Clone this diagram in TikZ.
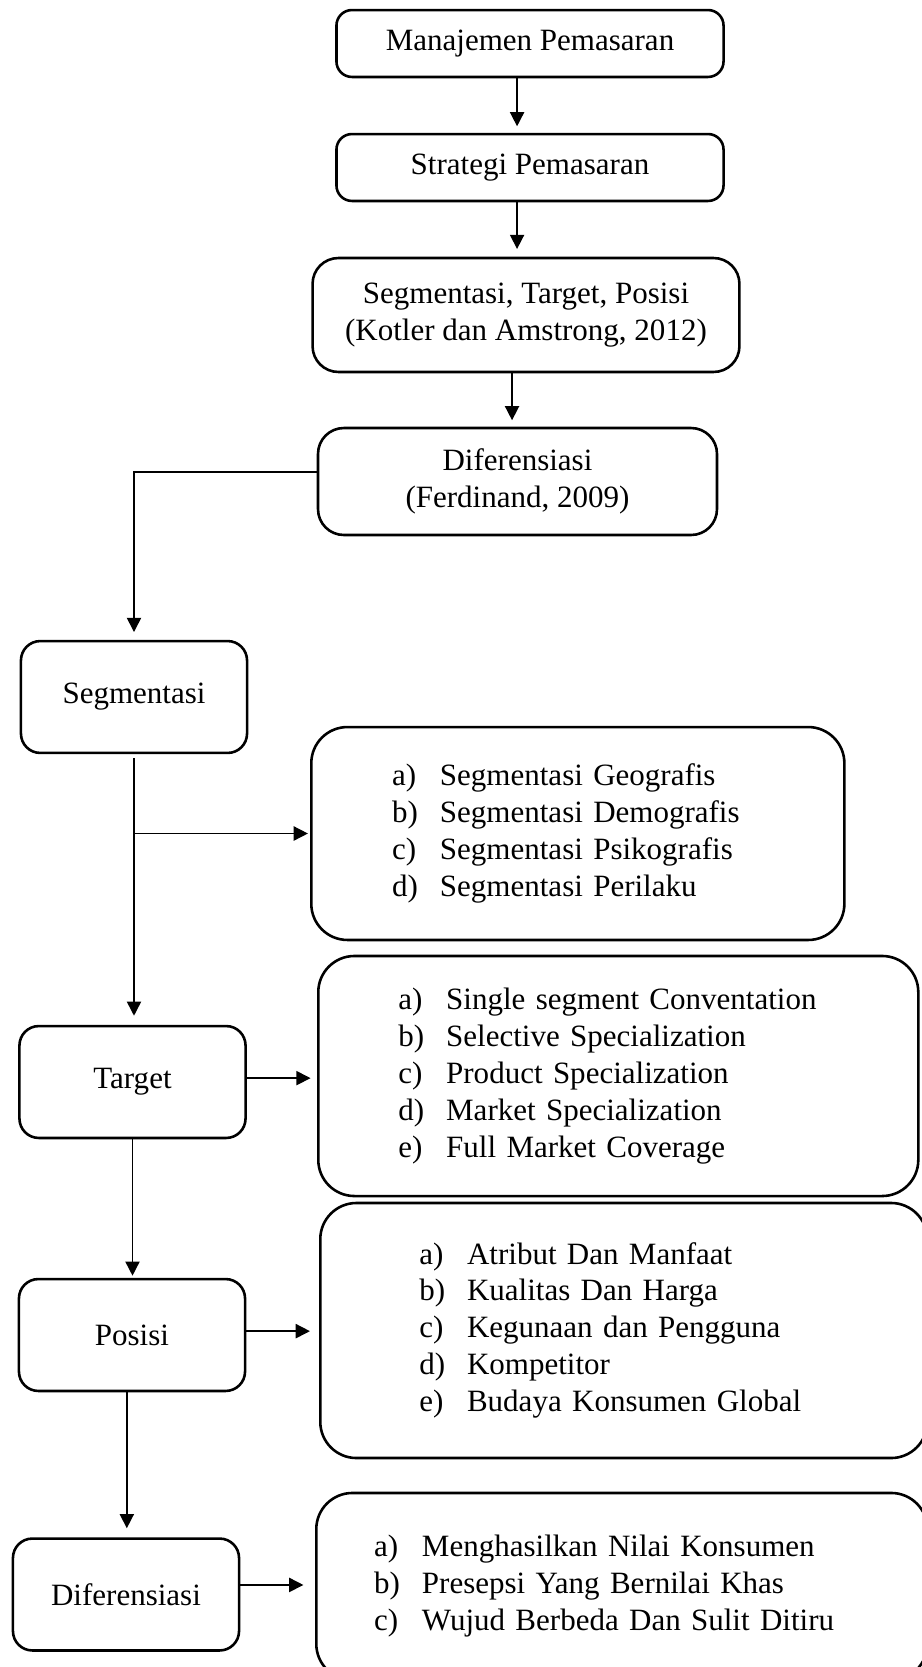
\documentclass[tikz,border=0pt]{standalone}
\usepackage{fontspec}
\setmainfont{Liberation Serif}
\usetikzlibrary{arrows.meta}

\begin{document}
\begin{tikzpicture}[x=0.387pt, y=-0.387pt,
		every node/.style={font=\fontsize{12}{14.3}\selectfont, inner sep=0pt},
		topbox/.style={draw, line width=1pt, rounded corners=6pt, align=center},
		stepbox/.style={draw, line width=1pt, rounded corners=7.5pt, minimum width=87.5pt, minimum height=43.3pt},
		listbox/.style={draw, line width=1pt, rounded corners=14pt, anchor=west, align=left},
		arr/.style={-{Triangle[length=5.5pt,width=5.5pt]}, line width=0.6pt, shorten >=2.5pt}]
			\useasboundingbox (0,0) rectangle (922,1667);
			\clip (0,0) rectangle (922,1667);
			
			\node[topbox, minimum width=149.8pt, minimum height=25.9pt] (mp) at (530,43.5) {Manajemen Pemasaran};
			
			\node[topbox, minimum width=149.8pt, minimum height=25.9pt] (sp) at (530,167.5) {Strategi Pemasaran};
			
			\node[topbox, rounded corners=10pt, minimum width=165.2pt, minimum height=44.1pt] (stp) at (526,315) {Segmentasi, Target, Posisi\\(Kotler dan Amstrong, 2012)};
			
			\node[topbox, rounded corners=10pt, minimum width=154.4pt, minimum height=41.4pt] (dif) at (517.5,481.5) {Diferensiasi\\(Ferdinand, 2009)};
			
			\node[stepbox] (seg) at (134,697) {Segmentasi};
			
			\node[stepbox] (tar) at (132.5,1082) {Target};
			
			\node[stepbox] (pos) at (132,1335) {Posisi};
			
			\node[stepbox] (difb) at (126,1594.5) {Diferensiasi};
			
			\node[listbox, text width=206.3pt, minimum height=82.4pt] (seglist) at (310,833.5) {\hspace*{31.3pt}\begin{tabular}{@{}p{18.5pt}@{}l@{}}
					a) & Segmentasi Geografis\\
					b) & Segmentasi Demografis\\
					c) & Segmentasi Psikografis\\
					d) & Segmentasi Perilaku
				\end{tabular}};
			
			\node[listbox, text width=232.2pt, minimum height=92.9pt] (tarlist) at (317,1076) {\hspace*{31pt}\begin{tabular}{@{}p{18.5pt}@{}l@{}}
					a) & Single segment Conventation\\
					b) & Selective Specialization\\
					c) & Product Specialization\\
					d) & Market Specialization\\
					e) & Full Market Coverage
				\end{tabular}};
			
			\node[listbox, text width=234.9pt, minimum height=98.7pt] (poslist) at (319,1330.5) {\hspace*{38.3pt}\begin{tabular}{@{}p{18.5pt}@{}l@{}}
					a) & Atribut Dan Manfaat\\
					b) & Kualitas Dan Harga\\
					c) & Kegunaan dan Pengguna\\
					d) & Kompetitor\\
					e) & Budaya Konsumen Global
				\end{tabular}};
			
			\node[listbox, text width=236.5pt, minimum height=72.4pt] (diflist) at (315,1586.5) {\hspace*{22.4pt}\begin{tabular}{@{}p{18.5pt}@{}l@{}}
					a) & Menghasilkan Nilai Konsumen\\
					b) & Presepsi Yang Bernilai Khas\\
					c) & Wujud Berbeda Dan Sulit Ditiru
				\end{tabular}};
			
			\draw[arr] ([xshift=-5pt]mp.south) -- ([xshift=-5pt]sp.north);
			
			\draw[arr, shorten >=3pt] ([xshift=-5pt]sp.south) -- ([xshift=-5pt]sp.south |- stp.north);
			
			\draw[arr] ([xshift=-5.4pt]stp.south) -- ([xshift=-5.4pt]stp.south |- dif.north);
			
			\draw[arr, shorten >=3pt] ([yshift=3.7pt]dif.west) -| (seg.north);
			
			\draw[arr, shorten >=3.5pt] ([yshift=-1.5pt]seg.south) -- (seg.south |- tar.north);
			
			\draw[arr, shorten >=0.8pt] (seg.south |- seglist.west) -- (seglist.west);
			
			\draw[arr] ([yshift=1.5pt]tar.east) -- ([yshift=1.5pt]tar.east -| tarlist.west);
			
			\draw[arr, shorten >=0.8pt] (tar.south) -- (tar.south |- pos.north);
			
			\draw[arr, shorten >=3.5pt] ([yshift=1.5pt]pos.east) -- ([yshift=1.5pt]pos.east -| poslist.west);
			
			\draw[arr, shorten >=3.5pt] ([xshift=-2pt]pos.south) -- ([xshift=-2pt]pos.south |- difb.north);
			
			\draw[arr, shorten >=4.5pt] ([yshift=3.7pt]difb.east) -- ([yshift=3.7pt]difb.east -| diflist.west);
		\end{tikzpicture}
\end{document}
